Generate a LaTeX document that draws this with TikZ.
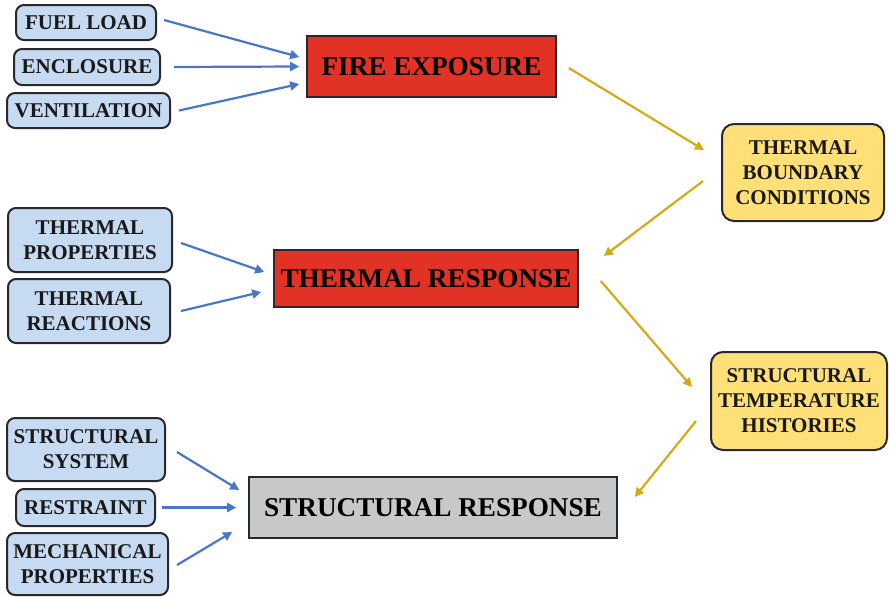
\documentclass[tikz,border=0pt]{standalone}
\usepackage{fontspec}
\setmainfont{Liberation Serif}
\usetikzlibrary{calc,arrows.meta}
\definecolor{lblue}{RGB}{198,218,242}
\definecolor{fred}{RGB}{226,50,38}
\definecolor{fyel}{RGB}{255,224,120}
\definecolor{fgray}{RGB}{198,200,202}
\definecolor{ablue}{RGB}{72,118,205}
\definecolor{ayel}{RGB}{214,170,20}
\definecolor{edge}{RGB}{40,40,45}
\tikzset{
  inbox/.style={draw=edge,line width=2pt,fill=lblue,rounded corners=8pt,inner sep=0pt,align=center,
    font=\fontsize{21}{25}\selectfont\bfseries,text=black!90},
  mainbox/.style={draw=edge,line width=1.6pt,inner sep=0pt,align=center,
    font=\fontsize{27.2}{30}\selectfont\bfseries,text=black},
  ybox/.style={draw=edge,line width=2pt,fill=fyel,rounded corners=12pt,inner sep=0pt,align=center,
    font=\fontsize{21}{25}\selectfont\bfseries,text=black!90},
  barrow/.style={draw=ablue,line width=2.2pt,-{Triangle[length=9pt,width=9pt]}},
  yarrow/.style={draw=ayel,line width=2.2pt,-{Triangle[length=9pt,width=9pt]}}
}
\begin{document}
\begin{tikzpicture}[x=1pt,y=-1pt]
\useasboundingbox (0,0) rectangle (889,597);
% left input boxes
\node[inbox,minimum width=140pt,minimum height=35pt] (fuel) at (86,22.5) {FUEL LOAD};
\node[inbox,minimum width=146pt,minimum height=36pt] (encl) at (87,67) {ENCLOSURE};
\node[inbox,minimum width=163pt,minimum height=35pt] (vent) at (88.5,110.5) {VENTILATION};
\node[inbox,minimum width=164pt,minimum height=64pt] (tprop) at (90,240) {THERMAL\\PROPERTIES};
\node[inbox,minimum width=162pt,minimum height=64pt] (treac) at (89,311) {THERMAL\\REACTIONS};
\node[inbox,minimum width=158pt,minimum height=63pt] (ssys) at (86,449.5) {STRUCTURAL\\SYSTEM};
\node[inbox,minimum width=139pt,minimum height=37pt] (restr) at (85.5,507.5) {RESTRAINT};
\node[inbox,minimum width=161pt,minimum height=62pt] (mech) at (87.5,564) {MECHANICAL\\PROPERTIES};
% main boxes
\node[mainbox,fill=fred,minimum width=249pt,minimum height=61pt] (fire) at (431.5,66.5) {FIRE EXPOSURE};
\node[mainbox,fill=fred,minimum width=304pt,minimum height=57pt] (tresp) at (426,278.5) {THERMAL RESPONSE};
\node[mainbox,fill=fgray,minimum width=368pt,minimum height=61pt] (sresp) at (433,507.5) {STRUCTURAL RESPONSE};
% yellow boxes
\node[ybox,minimum width=162pt,minimum height=97pt] (tbc) at (803,172.5) {THERMAL\\BOUNDARY\\CONDITIONS};
\node[ybox,minimum width=176pt,minimum height=98pt] (sth) at (799,401) {STRUCTURAL\\TEMPERATURE\\HISTORIES};
% blue arrows
\draw[barrow] ($(fuel.east)+(7,-2.5)$) -- ($(fire.west)+(-7,-9.5)$);
\draw[barrow] ($(encl.east)+(13,0)$) -- ($(fire.west)+(-7,0)$);
\draw[barrow] ($(vent.east)+(8,0)$) -- ($(fire.west)+(-7,17.5)$);
\draw[barrow] ($(tprop.east)+(8,3)$) -- ($(tresp.west)+(-9,-6.5)$);
\draw[barrow] ($(treac.east)+(10,0)$) -- ($(tresp.west)+(-12,13.5)$);
\draw[barrow] ($(ssys.east)+(11,2.5)$) -- ($(sresp.west)+(-9,-17.5)$);
\draw[barrow] ($(restr.east)+(6,0)$) -- ($(sresp.west)+(-12,0)$);
\draw[barrow] ($(mech.east)+(8,1)$) -- ($(sresp.west)+(-16,24.5)$);
% yellow arrows
\draw[yarrow] ($(fire.east)+(12,1.5)$) -- ($(tbc.west)+(-17,-22.5)$);
\draw[yarrow] ($(tbc.west)+(-18,8.5)$) -- ($(tresp.east)+(25,-22.5)$);
\draw[yarrow] ($(tresp.east)+(22,2.5)$) -- ($(sth.west)+(-18,-14)$);
\draw[yarrow] ($(sth.west)+(-14,20)$) -- ($(sresp.east)+(17,-10.5)$);
\end{tikzpicture}
\end{document}
